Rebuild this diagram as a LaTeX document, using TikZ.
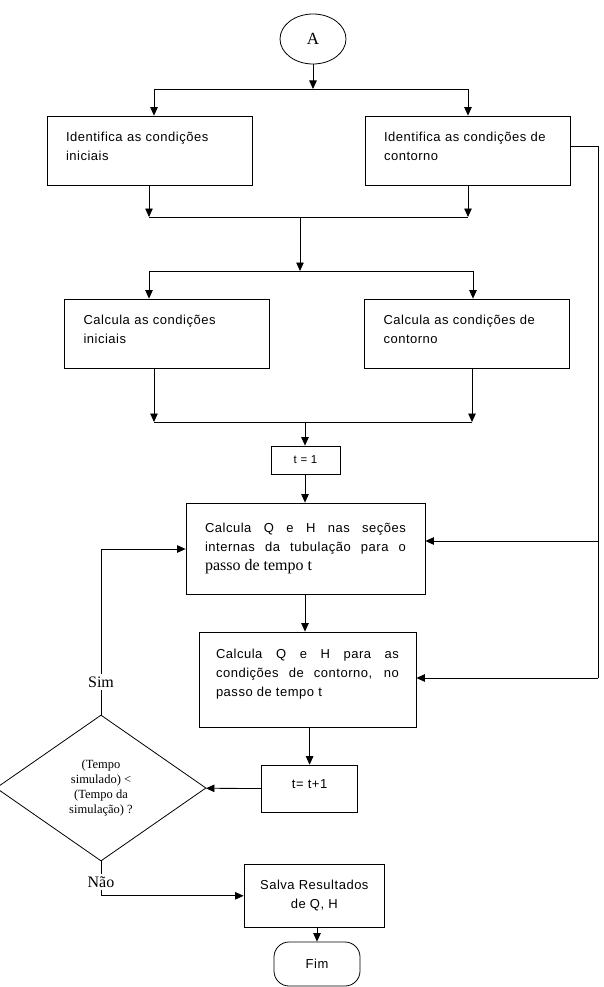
\documentclass[tikz,border=0pt]{standalone}
\usepackage{fontspec}
\setmainfont{Liberation Sans}[LetterSpace=4]
\newfontfamily\timesfont{Liberation Serif}
\usetikzlibrary{shapes.geometric,arrows.meta}

\begin{document}
\begin{tikzpicture}[x=1pt,y=-1pt,->,>={Triangle[length=8.5pt,width=7.5pt]},line width=0.8pt,
    proc node/.style={-,draw,rectangle,inner xsep=19pt,text width=167pt,text depth=27pt,minimum height=69pt,align=left,font=\fontsize{13}{19}\selectfont},
    small node/.style={-,draw,rectangle,align=center,font=\fontsize{13}{19}\selectfont},
    serif label/.style={font=\timesfont\fontsize{16}{18}\selectfont,inner sep=2pt}]
    \useasboundingbox (0,0) rectangle (603,987);

    \node[-,draw,ellipse,minimum width=66pt,minimum height=50pt,font=\timesfont\fontsize{17}{20}\selectfont] (A) at (313,39) {A};
    \node[proc node] (1) at (149.5,150.5) {Identifica as condições\\iniciais};
    \node[proc node] (2) at (467.5,150.5) {Identifica as condições de\\contorno};
    \node[proc node] (3) at (167,333.5) {Calcula as condições\\iniciais};
    \node[proc node] (4) at (467,333.5) {Calcula as condições de\\contorno};
    \node[small node,minimum width=69pt,minimum height=28pt,font=\fontsize{11.5}{14}\selectfont] (5) at (305.5,460) {t = 1};
    \node[proc node,text width=201pt,text depth=,minimum height=91pt,align=justify] (6) at (305.5,548.5)
        {Calcula Q e H nas seções\linebreak internas da tubulação para o\linebreak {\timesfont\fontsize{16}{19}\selectfont passo de tempo t}};
    \node[proc node,text width=183pt,text depth=52pt,inner xsep=17pt,minimum height=95pt,align=justify] (7) at (307.5,679.5)
        {Calcula Q e H para as\linebreak condições de contorno, no\linebreak passo de tempo t};
    \node[small node,text depth=9pt,minimum width=96pt,minimum height=47pt] (8) at (309.6,788.6) {t= t+1};
    \node[-,draw,diamond,aspect=1.44,minimum width=210pt,minimum height=146pt,inner sep=0pt,align=center,font=\timesfont\fontsize{12.5}{14.7}\selectfont] (9) at (101,788)
        {(Tempo\\simulado) <\\(Tempo da\\simulação) ?};
    \node[serif label] (10) at (101,682) {Sim};
    \node[serif label] (11) at (101,882) {Não};
    \node[small node,minimum width=140.6pt,minimum height=63pt] (12) at (314.3,895.8) {Salva Resultados\\de Q, H};
    \node[-,draw,rectangle,rounded corners=15pt,minimum width=86pt,minimum height=44pt,font=\fontsize{13}{16}\selectfont] (13) at (317,964) {Fim};

    % junctions
    \coordinate (a1) at (313,89);  \coordinate (a1l) at (154,89);  \coordinate (a1r) at (468,89);
    \coordinate (b1) at (300,217); \coordinate (b1l) at (149,217); \coordinate (b1r) at (468,217);
    \coordinate (c1) at (300,271); \coordinate (c1l) at (149,271); \coordinate (c1r) at (473,271);
    \coordinate (d1) at (305,422); \coordinate (d1l) at (154,422); \coordinate (d1r) at (472,422);
    \coordinate (e1) at (598,146); \coordinate (e2) at (598,541); \coordinate (e3) at (598,678);
    \coordinate (f1) at (101,549);

    \draw[-] (a1l) -- (a1r);
    \draw[-] (b1l) -- (b1r);
    \draw[-] (c1l) -- (c1r);
    \draw[-] (d1l) -- (d1r);
    \draw[-] (2.east |- e1) -- (e1) -- (e3);
    \draw[-] (9.north) -- (10.south);
    \draw[-] (10.north) -- (f1);
    \draw[-] (9.south) -- (11.north);

    \path
        (A) edge (a1)
        (a1l) edge (a1l |- 1.north)
        (a1r) edge (a1r |- 2.north)
        (b1l |- 1.south) edge (b1l)
        (b1r |- 2.south) edge (b1r)
        (b1) edge (c1)
        (c1l) edge (c1l |- 3.north)
        (c1r) edge (c1r |- 4.north)
        (d1l |- 3.south) edge (d1l)
        (d1r |- 4.south) edge (d1r)
        (d1) edge (d1 |- 5.north)
        (5.south -| d1) edge (d1 |- 6.north)
        (6.south -| d1) edge (d1 |- 7.north)
        (e2) edge (e2 -| 6.east)
        (e3) edge (e3 -| 7.east)
        (f1) edge (f1 -| 6.west)
        (8.north |- 7.south) edge (8.north)
        (8) edge (9)
        (13.north |- 12.south) edge (13.north)
        ;
    \draw (11.south) |- (12.west);
\end{tikzpicture}
\end{document}
